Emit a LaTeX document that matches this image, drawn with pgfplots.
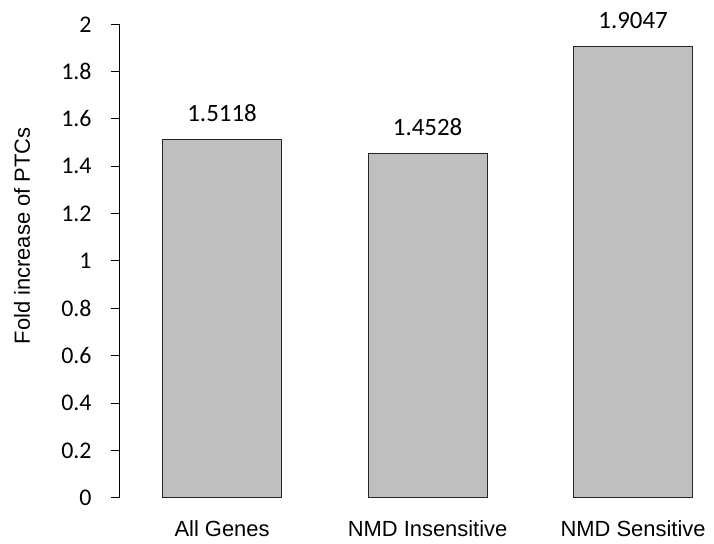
\documentclass[border=0pt]{standalone}
\usepackage{pgfplots}
\pgfplotsset{compat=1.18}
\usepackage{fontspec}
\setmainfont{Liberation Sans}
\newfontfamily\calibri{Carlito}
\definecolor{barfill}{HTML}{BFBFBF}
\definecolor{baredge}{HTML}{262626}

\begin{document}
\begin{tikzpicture}
\begin{axis}[
  name=ax,
  scale only axis,
  width=596bp, height=473.4bp,
  xmin=-0.5, xmax=2.4,
  ymin=0, ymax=2,
  axis y line*=left,
  axis x line*=bottom,
  x axis line style={draw=none},
  y axis line style={line width=1bp, black},
  xtick=data,
  xticklabels={All Genes, NMD Insensitive, NMD Sensitive},
  xtick style={draw=none},
  ytick={0,0.2,...,2.01},
  tick align=outside,
  major tick length=8.5bp,
  ytick style={line width=1bp, black},
  /pgf/number format/assume math mode=true,
  yticklabel style={font=\calibri\fontsize{24}{24}\selectfont, anchor=east, inner sep=0pt, xshift=-19bp},
  xticklabel style={font=\fontsize{22}{22}\selectfont, anchor=base, inner sep=0pt},
  xticklabel shift=0pt,
  every x tick label/.append style={yshift=-30.5bp},
  ylabel={Fold increase of PTCs},
  ylabel style={font=\fontsize{22}{22}\selectfont, at={(axis description cs:-0.163,0.553)}, anchor=center, rotate=0},
  ybar, bar width=0.579,
  point meta=explicit symbolic,
  nodes near coords,
  every node near coord/.append style={font=\calibri\fontsize{25}{25}\selectfont, anchor=base, inner sep=0pt, yshift=18.3bp, black},
  clip=false,
]
\addplot[fill=barfill, draw=baredge, line width=1bp] coordinates {
  (0,1.5118) [1.5118]
  (1,1.4528) [1.4528]
  (2,1.9047) [1.9047]
};
\end{axis}
\pgfresetboundingbox
\path[use as bounding box] ([shift={(-119.3bp,-46.3bp)}]ax.south west) rectangle ([shift={(594.7bp,497.7bp)}]ax.south west);
\end{tikzpicture}
\end{document}
